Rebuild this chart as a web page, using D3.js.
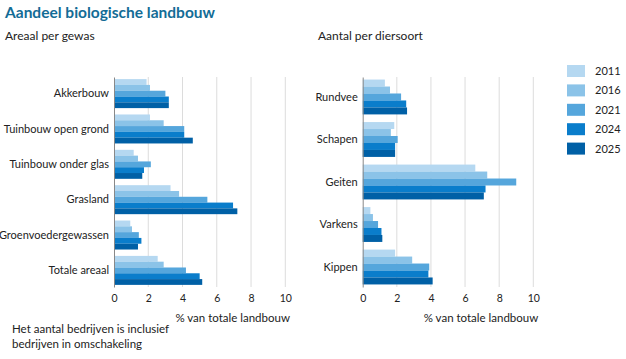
<!DOCTYPE html>
<html>
<head>
<meta charset="utf-8">
<script src="https://cdn.jsdelivr.net/npm/d3@7"></script>
<style>
  body { margin: 0; background: #fff; }
  svg { font-family: Lato, "Noto Sans", sans-serif; }
</style>
</head>
<body>
<svg id="chart" width="626" height="359"></svg>
<script>
const years = ["2011", "2016", "2021", "2024", "2025"];
const colors = ["#b5d8f1", "#8bc3e8", "#55a6dc", "#0a7dcb", "#0060a6"];

const crops = ["Akkerbouw", "Tuinbouw open grond", "Tuinbouw onder glas", "Grasland", "Groenvoedergewassen", "Totale areaal"];
const cropValues = [
  [1.9, 2.1, 3.0, 3.2, 3.2],
  [2.1, 2.9, 4.1, 4.1, 4.6],
  [1.15, 1.4, 2.15, 1.75, 1.65],
  [3.3, 3.8, 5.45, 6.95, 7.2],
  [0.95, 1.05, 1.45, 1.6, 1.4],
  [2.55, 2.9, 4.2, 5.0, 5.15]
];

const animals = ["Rundvee", "Schapen", "Geiten", "Varkens", "Kippen"];
const animalValues = [
  [1.3, 1.6, 2.25, 2.55, 2.6],
  [1.85, 1.65, 2.05, 1.9, 1.9],
  [6.6, 7.3, 9.0, 7.2, 7.1],
  [0.45, 0.6, 0.9, 1.1, 1.15],
  [1.9, 2.9, 3.9, 3.85, 4.1]
];

const xTicks = [0, 2, 4, 6, 8, 10];
const xLabel = "% van totale landbouw";

const svg = d3.select("#chart");

svg.append("text")
  .attr("x", 5).attr("y", 18)
  .attr("font-size", 15.5).attr("font-weight", "bold")
  .attr("fill", "#136c96")
  .text("Aandeel biologische landbouw");

function drawPanel(opts) {
  const { left, right, top, bottom, cats, values, title, titleX } = opts;

  svg.append("text")
    .attr("x", titleX).attr("y", 40)
    .attr("font-size", 12).attr("fill", "#222")
    .text(title);

  const g = svg.append("g");

  const x = d3.scaleLinear().domain([0, 10]).range([left, right]);
  const y = d3.scaleBand().domain(cats).range([top, bottom]).paddingInner(0.18).paddingOuter(0.06);
  const yy = d3.scaleBand().domain(years).range([0, y.bandwidth()]);

  g.selectAll(".grid")
    .data(xTicks.slice(1))
    .join("line")
    .attr("x1", d => x(d)).attr("x2", d => x(d))
    .attr("y1", top).attr("y2", bottom)
    .attr("stroke", "#dcdcdc").attr("stroke-width", 1);

  const rows = g.selectAll(".row")
    .data(cats.map((c, i) => ({ cat: c, vals: values[i] })))
    .join("g")
    .attr("transform", d => `translate(0,${y(d.cat)})`);

  rows.selectAll("rect")
    .data(d => d.vals.map((v, i) => ({ year: years[i], v: v, c: colors[i] })))
    .join("rect")
    .attr("x", x(0))
    .attr("y", d => yy(d.year))
    .attr("width", d => x(d.v) - x(0))
    .attr("height", yy.bandwidth())
    .attr("fill", d => d.c);

  const yAxis = g.append("g")
    .attr("transform", `translate(${x(0)},0)`)
    .call(d3.axisLeft(y).tickSize(0).tickPadding(5));
  yAxis.select(".domain").attr("stroke", "#888");
  yAxis.selectAll("text").attr("font-size", 11).attr("fill", "#222")
    .attr("font-family", "Lato, sans-serif");

  const xAxis = g.append("g")
    .attr("transform", `translate(0,${bottom})`)
    .call(d3.axisBottom(x).tickValues(xTicks).tickSize(0).tickPadding(8).tickFormat(d3.format("d")));
  xAxis.select(".domain").remove();
  xAxis.selectAll("text").attr("font-size", 10.5).attr("fill", "#222")
    .attr("font-family", "Lato, sans-serif");

  svg.append("text")
    .attr("x", (x(0) + x(10)) / 2 + 33).attr("y", 322)
    .attr("text-anchor", "middle")
    .attr("font-size", 11.5).attr("fill", "#222")
    .text(xLabel);
}

drawPanel({ left: 114, right: 285.3, top: 77, bottom: 287, cats: crops, values: cropValues, title: "Areaal per gewas", titleX: 5 });
drawPanel({ left: 362.7, right: 533.3, top: 77, bottom: 287, cats: animals, values: animalValues, title: "Aantal per diersoort", titleX: 318 });

const legend = svg.append("g").attr("transform", "translate(567,65)");
const ly = d3.scaleBand().domain(years).range([0, 97]);
legend.selectAll("rect")
  .data(years)
  .join("rect")
  .attr("x", 0).attr("y", d => ly(d))
  .attr("width", 18).attr("height", 12)
  .attr("fill", (d, i) => colors[i]);
legend.selectAll("text")
  .data(years)
  .join("text")
  .attr("x", 28).attr("y", d => ly(d) + 10)
  .attr("font-size", 11).attr("fill", "#222")
  .text(d => d);

svg.append("text")
  .attr("font-size", 11.5).attr("fill", "#222")
  .selectAll("tspan")
  .data(["Het aantal bedrijven is inclusief", "bedrijven in omschakeling"])
  .join("tspan")
  .attr("x", 12).attr("y", (d, i) => 333 + i * 15)
  .text(d => d);
</script>
</body>
</html>
